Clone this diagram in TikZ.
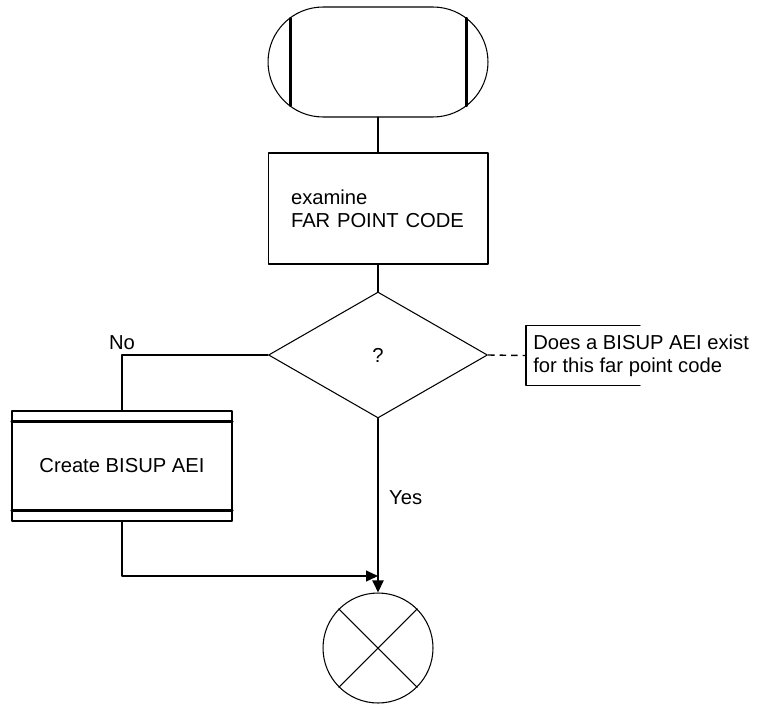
\documentclass[tikz,border=0pt]{standalone}
\usepackage{fontspec}
\setmainfont{Liberation Sans}
\usetikzlibrary{arrows.meta}
\usetikzlibrary{shapes.geometric}
\usetikzlibrary{calc}

\begin{document}
\begin{tikzpicture}[line cap=round,line join=round,>={Triangle[length=0.24cm,width=0.22cm]},x=0.02cm,y=-0.02cm,
  every node/.style={font=\fontsize{11.5pt}{13pt}\selectfont},
  outline/.style={draw,line width=0.6pt,inner sep=0pt},
  flow/.style={line width=1.2pt},
  thin flow/.style={line width=0.6pt}]
\useasboundingbox (0,0) rectangle (759,706);
% start symbol
\node[outline,rounded corners=1.1cm,minimum width=4.4cm,minimum height=2.2cm] (start) at (378,62) {};
\draw [flow] ([xshift=0.46cm,yshift=0.88cm]start.west)--([xshift=0.46cm,yshift=-0.88cm]start.west);
\draw [flow] ([xshift=-0.44cm,yshift=0.88cm]start.east)--([xshift=-0.44cm,yshift=-0.88cm]start.east);
% task box
\node[outline,minimum height=2.22cm,text width=3.48cm,inner xsep=0.46cm,align=left] (examine) at (378,208.5) {examine\\FAR POINT CODE};
\draw [flow] (start)--(examine);
% decision
\node[outline,diamond,minimum width=4.38cm,minimum height=2.52cm] (test) at (378,355) {?};
\draw [flow] (examine)--(test);
% comment
\node[anchor=west,inner xsep=0.14cm,inner ysep=0pt,align=left,minimum height=1.18cm] (note) at (526,355.5) {Does a BISUP AEI exist\\for this far point code};
\draw [line width=0.6pt] ($(note.north west)+(114,0)$)--(note.north west)--(note.south west)--++(114,0);
\draw [line width=0.8pt,line cap=butt,dash pattern=on 0.13cm off 0.1cm] (test.east)--(note.west);
% no branch
\node[outline,minimum width=4.4cm,minimum height=2.2cm] (create) at (122,466) {Create BISUP AEI};
\draw [flow] ([yshift=-0.22cm]create.north west)--([yshift=-0.22cm]create.north east);
\draw [flow] ([yshift=0.22cm]create.south west)--([yshift=0.22cm]create.south east);
\draw [thin flow] (test.west)-|(create.north);
\node (no) at (122,343) {No};
% join
\node[outline,circle,minimum size=2.2cm] (join) at (378,648) {};
\draw [line width=0.6pt] (join.north west)--(join.south east);
\draw [line width=0.6pt] (join.north east)--(join.south west);
\coordinate (merge) at (378,576);
\draw [flow,->] (test.south)--(join.north);
\draw [thin flow,->] (create.south)|-(merge);
\node[anchor=west] (yes) at (383,498) {Yes};
\end{tikzpicture}
\end{document}
